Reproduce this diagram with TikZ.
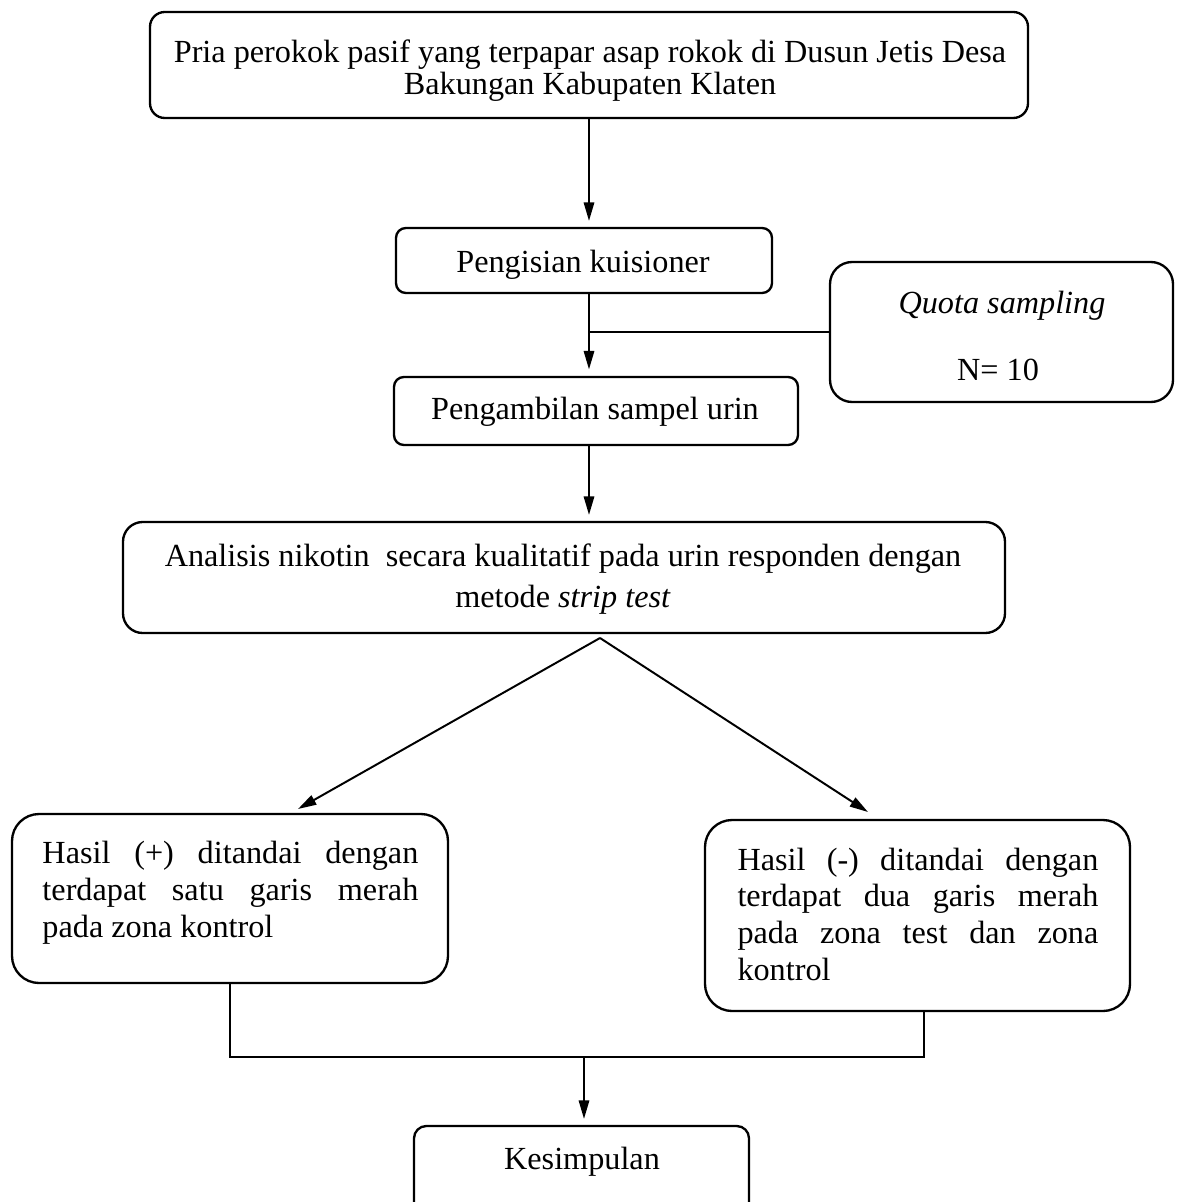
\documentclass[tikz,border=0pt]{standalone}
\usepackage{fontspec}
\setmainfont{Liberation Serif}
\usetikzlibrary{arrows.meta,fit,calc}
\begin{document}
\begin{tikzpicture}[x=0.4065pt,y=-0.4065pt,
  box/.style={draw,line width=0.95pt,inner sep=0pt},
  txt/.style={inner sep=0pt,anchor=base,font=\fontsize{13.1}{13.2}\selectfont},
  conn/.style={line width=0.8pt},
  arr/.style={conn,-{Triangle[length=7.5pt,width=4.2pt]}}]
\useasboundingbox (0,0) rectangle (1182,1202);
\fill[white] (0,0) rectangle (1182,1202);

% boxes
\node[box,rounded corners=6pt,fit={(150,12)(1028,118)}] (top) {};
\node[box,rounded corners=4pt,fit={(396,228)(772,293)}] (b2) {};
\node[box,rounded corners=4pt,fit={(394,377)(798,445)}] (b3) {};
\node[box,rounded corners=9pt,fit={(830,262)(1173,402)}] (quota) {};
\node[box,rounded corners=8pt,fit={(123,522)(1005,633)}] (b4) {};
\node[box,rounded corners=11pt,fit={(12,814)(448,983)}] (left) {};
\node[box,rounded corners=11pt,fit={(705,820)(1130,1011)}] (right) {};
\node[box,rounded corners=5pt,fit={(414,1126)(749,1230)}] (kes) {};

% texts
\node[txt,align=center,font=\fontsize{13.1}{13.2}\selectfont] (ttop) at (590,95) {Pria perokok pasif yang terpapar asap rokok di Dusun Jetis Desa\\Bakungan Kabupaten Klaten};
\node[txt] (t2) at (583,272) {Pengisian kuisioner};
\node[txt] (t3) at (595,419) {Pengambilan sampel urin};
\node[txt] (tq1) at (1002,313) {\itshape Quota sampling};
\node[txt] (tq2) at (998,380) {N= 10};
\node[txt,align=center,font=\fontsize{13.1}{16.3}\selectfont] (t4) at (563,607) {Analisis nikotin\ \ secara kualitatif pada urin responden dengan\\metode \textit{strip test}};
\node[txt,anchor=base west,align=left,font=\fontsize{13.1}{15}\selectfont] (tl) at (42,937) {\makebox[152.8pt][s]{Hasil (+) ditandai dengan}\\\makebox[152.8pt][s]{terdapat satu garis merah}\\pada zona kontrol};
\node[txt,anchor=base west,align=left,font=\fontsize{13.1}{14.9}\selectfont] (tr) at (737,980) {\makebox[146.7pt][s]{Hasil (-) ditandai dengan}\\\makebox[146.7pt][s]{terdapat dua garis merah}\\\makebox[146.7pt][s]{pada zona test dan zona}\\kontrol};
\node[txt] (tk) at (582,1169) {Kesimpulan};

% connectors
\coordinate (sp) at (589,0);
\coordinate (apex) at (600,638);
\coordinate (lt) at (298,809);
\coordinate (rt) at (868,812);
\coordinate (rj) at (924,1057);
\coordinate (jn) at (584,1057);

\draw[arr,shorten >=2.4pt] (top.south -| sp) -- (b2.north -| sp);
\draw[arr,shorten >=2.6pt] (b2.south -| sp) -- (b3.north -| sp);
\draw[conn] (quota.west) -- (quota.west -| sp);
\draw[arr,shorten >=2.4pt] (b3.south -| sp) -- (b4.north -| sp);
\draw[arr] (apex) -- (lt);
\draw[arr] (apex) -- (rt);
\draw[conn] (left.south) |- (rj) -- (right.south -| rj);
\draw[arr,shorten >=2.4pt] (jn) -- (kes.north -| jn);
\end{tikzpicture}
\end{document}
